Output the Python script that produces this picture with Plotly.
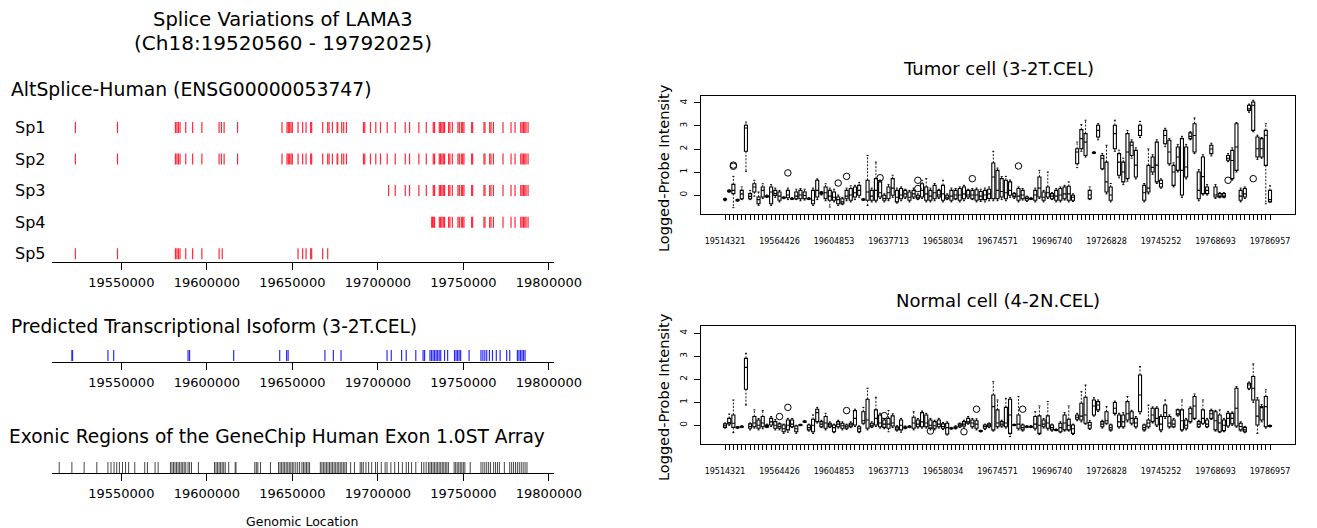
import plotly.graph_objects as go

W, H = 1317, 528
FONT = "DejaVu Sans"

# ---------------- data ----------------
genome_range = [19509701, 19802884]
genomic_ticks = [19550000, 19600000, 19650000, 19700000, 19750000, 19800000]

row_names = ["Sp1", "Sp2", "Sp3", "Sp4", "Sp5"]

sp1 = [19523112, 19547774, 19581633, 19582512, 19583391, 19584328, 19587667, 19591709, 19597098,
       19607174, 19608521, 19610103, 19617953, 19643962, 19646891, 19647653, 19648414, 19649235,
       19649996, 19653335, 19656030, 19658022, 19660716, 19661302, 19667746, 19670675, 19671495,
       19673428, 19676181, 19676533, 19678876, 19680048, 19681629, 19691588, 19692349, 19695688,
       19698793, 19701546, 19705471, 19710157, 19716016, 19718535, 19723983, 19728318, 19732418,
       19733180, 19735933, 19736694, 19737456, 19738276, 19739038, 19741381, 19742142, 19743548,
       19746829, 19747649, 19748821, 19749582, 19750344, 19754855, 19755441, 19762060, 19762645,
       19765398, 19766160, 19767566, 19773190, 19777876, 19780219, 19783558, 19784320, 19785140,
       19785902, 19786663, 19787835]
sp2 = [19523112, 19547774, 19581633, 19582512, 19583391, 19584328, 19587667, 19591709, 19597098,
       19607174, 19608521, 19610103, 19617953, 19643962, 19646891, 19647653, 19648414, 19649235,
       19649996, 19653335, 19656030, 19658022, 19660716, 19661302, 19667746, 19670675, 19671495,
       19673428, 19676181, 19676533, 19678876, 19680048, 19681629, 19691588, 19692349, 19695688,
       19698793, 19701546, 19705471, 19710157, 19716016, 19718535, 19723983, 19728318, 19732418,
       19733180, 19735933, 19736694, 19737456, 19738276, 19739038, 19741381, 19742142, 19743548,
       19746829, 19747649, 19748821, 19749582, 19750344, 19754855, 19755441, 19762060, 19762645,
       19765398, 19766160, 19767566, 19773190, 19777876, 19780219, 19783558, 19784320, 19785140,
       19785902, 19786663, 19787835]
sp3 = [19706300, 19710157, 19716016, 19718535, 19723983, 19728318, 19732418, 19733180, 19735933,
       19736694, 19737456, 19738276, 19739038, 19741381, 19742142, 19743548, 19746829, 19747649,
       19748821, 19749582, 19750344, 19754855, 19755441, 19762060, 19762645, 19765398, 19766160,
       19767566, 19773190, 19777876, 19780219, 19783558, 19784320, 19785140, 19785902, 19786663,
       19787835]
sp4 = [19731500, 19731900, 19732418, 19733180, 19735933, 19736694, 19737456, 19738276, 19739038,
       19741381, 19742142, 19743548, 19746829, 19747649, 19748821, 19749582, 19750344, 19754855,
       19755441, 19762060, 19762645, 19765398, 19766160, 19767566, 19773190, 19777876, 19780219,
       19783558, 19784320, 19785140, 19785902, 19786663, 19787835]
sp5 = [19523112, 19547774, 19581633, 19582512, 19583391, 19584328, 19587667, 19591709, 19597098,
       19607174, 19609000, 19653335, 19656030, 19658022, 19660716, 19661302, 19667746, 19670675]

isoform_exons = [19521090, 19521500, 19542164, 19545526, 19589019, 19589916, 19615698, 19642601,
                 19646636, 19647533, 19669055, 19673987, 19678471, 19705374, 19707840, 19713893,
                 19716583, 19722188, 19726448, 19727344, 19730483, 19731380, 19732277, 19733173,
                 19734070, 19734967, 19735864, 19736761, 19739002, 19740796, 19744831, 19745728,
                 19746625, 19747522, 19748418, 19753351, 19760301, 19761422, 19762543, 19763663,
                 19765233, 19767026, 19769268, 19771510, 19775321, 19777115, 19781599, 19782495,
                 19783392, 19784289, 19785186, 19786082]

array_exons = [19513691, 19521090, 19528264, 19535662, 19542164, 19543957, 19545751, 19547320,
               19548889, 19550683, 19552476, 19554270, 19557857, 19563686, 19565255, 19569739,
               19571532, 19578707, 19579603, 19580500, 19581397, 19582294, 19583190, 19584087,
               19584984, 19585881, 19586777, 19587674, 19589019, 19589916, 19591037, 19595072,
               19604488, 19605385, 19606282, 19607179, 19608075, 19608972, 19609869, 19610766,
               19612783, 19616595, 19617043, 19628028, 19628925, 19629822, 19631391, 19637220,
               19641928, 19642825, 19643722, 19644618, 19645515, 19646412, 19647309, 19648205,
               19649102, 19649999, 19650896, 19652017, 19653138, 19654259, 19655604, 19656500,
               19657397, 19658294, 19659191, 19660088, 19666365, 19667262, 19668158, 19669055,
               19669952, 19670849, 19671745, 19672642, 19673539, 19674436, 19675332, 19676229,
               19677126, 19678023, 19678919, 19679816, 19680713, 19681610, 19684076, 19686318,
               19689681, 19690577, 19691474, 19693043, 19694613, 19696406, 19698648, 19699769,
               19702011, 19704253, 19705374, 19707616, 19709858, 19712100, 19714342, 19716583,
               19717929, 19719722, 19722188, 19725551, 19726896, 19728241, 19729586, 19730483,
               19731380, 19732277, 19733173, 19734070, 19734967, 19735864, 19736761, 19737657,
               19738554, 19739451, 19740348, 19741244, 19744607, 19745504, 19746401, 19747297,
               19748194, 19749091, 19749988, 19750884, 19754023, 19760301, 19761422, 19762543,
               19763663, 19764784, 19765905, 19767699, 19768820, 19769941, 19771062, 19773976,
               19777115, 19778236, 19779357, 19780478, 19781599, 19782719, 19783840, 19784961,
               19786082, 19787203]

# probe-set boxplots (131 probe sets, labelled every 13th)
probe_labels = ["19514321", "19564426", "19604853", "19637713", "19658034", "19674571",
                "19696740", "19726828", "19745252", "19768693", "19786957"]
n_probes = 131
label_step = 13

tumor_q1 = [-0.22, 0.14, 0.06, -0.25, -0.16, 1.90, -0.16, 0.13, -0.38, -0.09,
            -0.08, -0.38, -0.02, -0.23, -0.14, -0.12, -0.18, -0.16, -0.16, -0.16,
            -0.18, -0.38, -0.09, 0.05, -0.16, -0.23, -0.23, -0.38, -0.38, -0.16,
            -0.23, -0.09, -0.01, -0.22, -0.23, -0.23, -0.23, -0.09, -0.23, -0.16,
            -0.01, -0.30, -0.16, -0.09, -0.23, -0.09, -0.16, -0.09, -0.23, -0.23,
            -0.16, -0.09, -0.23, -0.16, -0.23, -0.16, -0.23, -0.16, -0.09, -0.16,
            -0.23, -0.20, -0.20, -0.15, -0.16, -0.16, -0.09, -0.16, -0.01, -0.09,
            -0.23, -0.16, -0.23, -0.18, -0.23, -0.09, -0.23, -0.09, -0.16, -0.23,
            -0.23, -0.16, -0.23, -0.23, 1.36, 2.01, 1.72, -0.16, 1.82, 2.52,
            1.14, 0.13, -0.23, 2.01, 0.86, 0.57, 0.71, 1.72, 0.78, 2.59,
            -0.23, 0.13, 1.00, 0.57, 0.35, 2.23, 1.36, 0.42, 1.07, 0.00,
            0.78, 2.45, 1.87, -0.16, 0.06, 0.06, 1.80, -0.09, -0.09, -0.09,
            1.51, 0.71, 1.07, -0.23, -0.09, 3.68, 2.81, 1.65, 1.65, 1.29,
            -0.30]
tumor_med = [-0.19, 0.17, 0.20, -0.22, 0.05, 2.91, -0.06, 0.35, -0.20, 0.20,
             -0.06, 0.13, 0.06, -0.05, -0.12, 0.00, -0.16, -0.05, 0.00, -0.02,
             -0.16, -0.23, 0.20, 0.10, 0.10, -0.05, -0.10, -0.20, -0.30, -0.05,
             0.00, 0.10, 0.20, -0.20, 0.13, -0.05, 0.20, 0.10, -0.15, 0.10,
             0.30, -0.10, 0.00, 0.05, -0.10, 0.05, -0.10, 0.20, 0.05, -0.05,
             0.10, 0.00, 0.05, -0.10, -0.05, 0.00, 0.00, 0.05, 0.00, 0.00,
             0.00, -0.05, 0.00, 0.05, 0.78, 0.20, 0.15, 0.10, 0.20, -0.05,
             -0.05, 0.00, -0.15, -0.16, 0.00, 0.30, -0.10, 0.10, -0.05, -0.05,
             0.00, 0.05, 0.05, -0.10, 1.87, 2.45, 2.30, 0.00, 1.84, 2.81,
             1.60, 0.57, 0.00, 2.67, 1.43, 1.00, 1.87, 2.16, 1.30, 2.81,
             0.10, 0.30, 1.20, 1.30, 0.50, 2.59, 1.87, 1.00, 1.65, 1.07,
             1.22, 2.55, 2.59, 0.20, 0.80, 0.20, 2.00, 0.00, -0.05, -0.05,
             1.60, 1.50, 2.09, -0.05, 0.05, 3.75, 3.90, 2.01, 2.01, 2.60,
             -0.20]
tumor_q3 = [-0.16, 0.20, 0.46, -0.20, 0.20, 3.03, 0.06, 0.49, -0.09, 0.35,
            -0.04, 0.35, 0.20, 0.13, -0.10, 0.20, -0.14, 0.13, 0.20, 0.13,
            -0.14, 0.20, 0.64, 0.13, 0.35, 0.20, 0.13, -0.09, -0.16, 0.20,
            0.28, 0.35, 0.42, -0.18, 0.64, 0.20, 0.71, 0.57, -0.01, 0.35,
            0.71, 0.20, 0.28, 0.20, 0.13, 0.20, -0.01, 0.49, 0.35, 0.20,
            0.42, 0.20, 0.42, -0.01, 0.20, 0.20, 0.28, 0.35, 0.20, 0.20,
            0.23, 0.15, 0.20, 0.25, 1.39, 1.07, 0.71, 0.64, 0.57, 0.06,
            0.28, 0.20, -0.09, -0.14, 0.20, 0.78, 0.13, 0.35, 0.06, 0.20,
            0.28, 0.35, 0.38, -0.01, 2.01, 2.84, 2.67, 0.20, 1.86, 3.03,
            1.72, 1.43, 0.35, 3.03, 1.80, 1.43, 2.67, 2.30, 1.94, 3.03,
            0.42, 1.29, 1.65, 2.30, 0.64, 2.81, 2.38, 1.29, 2.09, 2.45,
            2.09, 2.70, 3.10, 1.00, 1.65, 0.35, 2.16, 0.35, 0.06, 0.06,
            1.72, 1.94, 3.10, 0.20, 0.28, 3.90, 4.04, 2.52, 2.45, 2.81,
            0.20]
tumor_lo = [-0.25, 0.12, -0.55, -0.27, -0.20, 1.03, -0.20, -0.05, -0.45, -0.15,
            -0.10, -0.45, -0.10, -0.30, -0.16, -0.20, -0.20, -0.20, -0.25, -0.22,
            -0.20, -0.45, -0.20, 0.00, -0.25, -0.52, -0.30, -0.45, -0.42, -0.25,
            -0.30, -0.20, -0.10, -0.24, -0.45, -0.30, -0.30, -0.15, -0.30, -0.25,
            -0.10, -0.35, -0.25, -0.15, -0.30, -0.15, -0.20, -0.15, -0.30, -0.30,
            -0.25, -0.15, -0.30, -0.20, -0.30, -0.20, -0.30, -0.25, -0.15, -0.20,
            -0.30, -0.28, -0.30, -0.25, -0.25, -0.25, -0.20, -0.25, -0.10, -0.15,
            -0.30, -0.22, -0.28, -0.20, -0.30, -0.15, -0.30, -0.15, -0.20, -0.30,
            -0.30, -0.22, -0.30, -0.28, 1.19, 1.90, 1.65, -0.20, 1.80, 2.40,
            1.10, 0.05, -0.30, 1.90, 0.75, 0.45, 0.60, 1.60, 0.70, 2.50,
            -0.30, 0.05, 0.90, 0.50, 0.30, 2.10, 1.30, 0.35, 1.00, -0.10,
            0.70, 2.40, 1.80, -0.25, 0.00, 0.00, 1.70, -0.15, -0.12, -0.12,
            1.45, 0.65, 1.00, -0.30, -0.15, 3.60, 2.75, 1.55, 1.60, -0.38,
            -0.30]
tumor_hi = [-0.14, 0.22, 0.81, -0.18, 0.35, 3.17, 0.20, 0.64, 0.13, 0.49,
            0.00, 0.45, 0.30, 0.20, -0.08, 0.30, -0.12, 0.25, 0.28, 0.25,
            -0.12, 0.30, 0.70, 0.15, 0.49, 0.30, 0.25, 0.00, -0.10, 0.30,
            0.40, 0.42, 0.55, -0.16, 1.72, 0.30, 1.43, 0.65, 0.05, 0.45,
            0.86, 0.30, 0.35, 0.25, 0.20, 0.30, 0.05, 0.64, 0.71, 0.30,
            0.50, 0.25, 0.64, 0.05, 0.30, 0.28, 0.35, 0.42, 0.25, 0.28,
            0.30, 0.25, 0.30, 0.35, 1.90, 1.17, 0.80, 0.81, 0.65, 0.10,
            0.35, 0.28, -0.05, -0.12, 0.30, 1.07, 0.20, 1.00, 0.10, 0.28,
            0.35, 0.42, 0.57, 0.05, 2.30, 3.06, 3.25, 0.35, 1.88, 3.10,
            1.80, 2.16, 0.50, 3.25, 1.95, 1.60, 2.80, 2.40, 2.05, 3.20,
            0.50, 2.00, 1.75, 2.40, 0.70, 2.90, 2.45, 1.40, 2.20, 2.55,
            2.20, 2.75, 3.35, 1.10, 1.75, 0.45, 2.25, 0.45, 0.10, 0.10,
            1.80, 2.05, 3.15, 0.30, 0.35, 3.95, 4.12, 2.60, 2.50, 3.10,
            0.40]
tumor_out_idx = [3, 3, 16, 28, 30, 38, 47, 47, 60, 71, 121, 127]
tumor_out_val = [1.25, 1.30, 0.96, 0.52, 0.81, 0.75, 0.64, 0.28, 0.71, 1.26, 0.64, 0.71]

normal_q1 = [-0.09, 0.06, -0.09, -0.11, -0.08, 1.57, -0.13, -0.06, -0.13, -0.06,
             -0.08, 0.01, -0.13, -0.13, -0.28, -0.20, -0.06, -0.28, -0.01, 0.14,
             -0.20, -0.28, 0.16, -0.06, -0.13, -0.06, -0.28, -0.06, -0.13, -0.13,
             -0.06, 0.01, -0.28, 0.09, -0.13, -0.06, 0.01, -0.06, -0.09, -0.13,
             -0.03, -0.20, -0.20, -0.13, -0.08, -0.13, -0.06, -0.06, -0.06, -0.13,
             -0.13, -0.06, -0.13, -0.38, -0.15, -0.13, -0.06, -0.03, 0.09, -0.06,
             -0.13, -0.27, -0.13, -0.06, -0.20, -0.06, -0.03, -0.06, -0.35, -0.01,
             -0.13, -0.20, -0.08, -0.08, -0.13, -0.35, -0.06, -0.13, -0.20, -0.22,
             -0.28, -0.20, -0.20, -0.35, 0.26, 0.23, 0.09, -0.13, 0.45, 0.67,
             -0.06, 0.09, -0.20, 0.52, -0.06, -0.06, 0.23, 0.09, -0.06, 0.59,
             -0.20, -0.06, 0.16, 0.01, -0.20, 0.38, -0.06, -0.06, 0.45, -0.20,
             -0.13, 0.16, 0.30, -0.06, 0.09, -0.06, 0.30, -0.20, -0.28, -0.23,
             -0.03, 0.06, -0.03, -0.20, -0.28, 1.61, 1.10, 0.01, 0.23, -0.06,
             -0.05]
normal_med = [-0.02, 0.12, 0.09, -0.09, -0.06, 2.52, -0.05, 0.10, 0.00, 0.10,
              -0.04, 0.15, 0.00, -0.05, -0.15, 0.00, 0.05, -0.15, 0.01, 0.16,
              -0.10, 0.00, 0.55, 0.05, 0.10, 0.02, -0.10, 0.05, -0.02, -0.06,
              0.02, 0.30, -0.15, 0.20, 0.23, 0.00, 0.30, 0.10, 0.05, 0.05,
              0.10, -0.12, 0.00, -0.10, -0.06, 0.10, 0.05, 0.15, 0.10, 0.00,
              -0.02, 0.05, -0.05, -0.10, -0.13, -0.10, 0.00, 0.05, 0.15, 0.10,
              0.05, -0.25, -0.05, 0.00, 0.81, 0.10, 0.05, 0.10, 0.45, 0.01,
              0.05, -0.10, -0.06, -0.06, 0.05, 0.00, 0.05, 0.10, -0.10, -0.20,
              -0.10, 0.10, 0.00, -0.15, 0.35, 0.40, 0.45, 0.00, 0.84, 0.88,
              0.05, 0.20, -0.10, 0.74, 0.15, 0.15, 0.50, 0.30, 0.10, 1.32,
              -0.10, 0.10, 0.45, 0.30, 0.05, 0.55, 0.10, 0.05, 0.50, 0.20,
              0.00, 0.50, 0.84, 0.05, 0.30, 0.05, 0.50, 0.20, 0.10, 0.00,
              0.30, 0.30, 0.74, -0.05, -0.20, 1.75, 1.61, 0.40, 0.78, 0.81,
              -0.03]
normal_q3 = [0.06, 0.30, 0.45, -0.07, -0.04, 2.91, 0.06, 0.38, 0.23, 0.38,
             0.01, 0.30, 0.16, 0.06, 0.01, 0.23, 0.23, -0.03, 0.03, 0.18,
             0.01, 0.26, 0.70, 0.16, 0.38, 0.09, 0.01, 0.16, 0.09, 0.01,
             0.09, 0.64, -0.06, 0.59, 1.13, 0.09, 0.67, 0.45, 0.23, 0.30,
             0.41, -0.06, 0.23, -0.06, -0.04, 0.35, 0.23, 0.55, 0.45, 0.23,
             0.16, 0.23, 0.06, 0.09, -0.11, -0.06, 0.06, 0.16, 0.30, 0.23,
             0.20, -0.23, 0.01, 0.06, 1.32, 0.67, 0.16, 0.78, 1.13, 0.03,
             0.45, 0.01, -0.04, -0.04, 0.38, 0.41, 0.23, 0.41, 0.01, -0.18,
             0.09, 0.45, 0.26, 0.01, 0.45, 0.96, 1.22, 0.12, 1.10, 1.03,
             0.16, 0.59, 0.01, 0.99, 0.45, 0.45, 1.03, 0.59, 0.30, 2.19,
             0.01, 0.23, 0.74, 0.74, 0.38, 0.88, 0.38, 0.23, 0.67, 0.67,
             0.23, 0.74, 1.25, 0.16, 0.67, 0.23, 0.64, 0.59, 0.45, 0.23,
             0.52, 0.52, 1.61, 0.09, -0.09, 1.83, 2.12, 1.10, 0.81, 1.25,
             -0.01]
normal_lo = [-0.12, 0.00, -0.32, -0.13, -0.10, 0.88, -0.20, -0.12, -0.20, -0.15,
             -0.10, -0.05, -0.20, -0.20, -0.35, -0.30, -0.10, -0.35, -0.02, 0.12,
             -0.25, -0.35, 0.10, -0.10, -0.20, -0.10, -0.32, -0.12, -0.20, -0.18,
             -0.10, -0.05, -0.32, 0.05, -0.20, -0.10, -0.05, -0.12, -0.15, -0.28,
             -0.10, -0.25, -0.30, -0.15, -0.10, -0.20, -0.12, -0.12, -0.12, -0.20,
             -0.20, -0.12, -0.18, -0.42, -0.17, -0.16, -0.10, -0.08, 0.05, -0.12,
             -0.20, -0.29, -0.18, -0.10, -0.25, -0.12, -0.08, -0.12, -0.49, -0.02,
             -0.20, -0.25, -0.10, -0.10, -0.20, -0.40, -0.12, -0.20, -0.25, -0.24,
             -0.32, -0.25, -0.25, -0.40, 0.20, 0.15, 0.05, -0.18, 0.40, 0.60,
             -0.12, 0.05, -0.25, 0.45, -0.12, -0.12, 0.15, 0.02, -0.12, 0.50,
             -0.25, -0.12, 0.10, -0.05, -0.28, 0.30, -0.12, -0.10, 0.40, -0.25,
             -0.20, 0.10, 0.25, -0.10, 0.05, -0.10, 0.25, -0.25, -0.32, -0.28,
             -0.08, 0.00, -0.08, -0.25, -0.32, 1.55, 1.00, -0.35, 0.15, -0.12,
             -0.07]
normal_hi = [0.10, 0.49, 1.10, -0.05, -0.02, 3.13, 0.10, 0.67, 0.30, 0.64,
             0.05, 0.38, 0.25, 0.10, 0.05, 0.30, 0.30, 0.00, 0.05, 0.20,
             0.05, 0.45, 0.78, 0.22, 0.52, 0.15, 0.05, 0.22, 0.15, 0.05,
             0.15, 0.70, -0.02, 0.78, 1.61, 0.15, 1.22, 0.52, 0.30, 0.64,
             0.50, -0.02, 0.30, -0.03, -0.02, 0.59, 0.30, 0.62, 0.52, 0.30,
             0.22, 0.30, 0.12, 0.15, -0.09, -0.02, 0.10, 0.22, 0.38, 0.30,
             0.28, -0.21, 0.05, 0.10, 1.90, 1.10, 0.22, 1.17, 1.20, 0.05,
             1.25, 0.05, -0.02, -0.02, 0.59, 0.84, 0.30, 1.03, 0.05, -0.16,
             0.15, 0.55, 0.84, 0.05, 0.52, 1.46, 1.75, 0.20, 1.20, 1.10,
             0.22, 0.81, 0.05, 1.05, 0.52, 0.55, 1.25, 0.65, 0.38, 2.55,
             0.05, 0.88, 0.80, 0.80, 0.45, 1.10, 0.45, 0.30, 0.70, 1.10,
             0.30, 0.80, 1.36, 0.22, 1.10, 0.30, 0.70, 0.65, 0.67, 0.30,
             0.60, 0.58, 1.68, 0.15, -0.05, 1.88, 2.67, 1.20, 0.90, 1.54,
             0.01]
normal_out_idx = [14, 16, 30, 39, 50, 58, 61, 72]
normal_out_val = [0.38, 0.78, 0.64, 0.42, -0.25, -0.28, 0.70, 0.70]

# ---------------- helpers ----------------
def fx(p):
    return p / W


def fy(p):
    return 1 - p / H


ROW_PX = 31.6      # pixels per row unit on the left panels
HALF = 0.174       # half height of an exon bar (row units)
BOX_W = 0.72       # box width (probe units)
STAPLE = 0.24      # half width of whisker staple (probe units)


def row_range(bottom_px, top_px, center_px):
    return [1 - (bottom_px - center_px) / ROW_PX, 1 + (center_px - top_px) / ROW_PX]


def bar_xy(positions, level):
    xs, ys = [], []
    for g in positions:
        xs += [g, g, None]
        ys += [level - HALF, level + HALF, None]
    return xs, ys


fig = go.Figure()

# --- AltSplice rows ---
sp_rows = [sp1, sp2, sp3, sp4, sp5]
n_rows = len(sp_rows)
for k, exons in enumerate(sp_rows):
    lvl = n_rows - k
    xs, ys = bar_xy(exons, lvl)
    fig.add_trace(go.Scatter(x=xs, y=ys, mode="lines", line=dict(color="#ff2838", width=1.2),
                             xaxis="x", yaxis="y", showlegend=False, hoverinfo="skip"))

xs, ys = bar_xy(isoform_exons, 1)
fig.add_trace(go.Scatter(x=xs, y=ys, mode="lines", line=dict(color="#2a2aff", width=1.2),
                         xaxis="x2", yaxis="y2", showlegend=False, hoverinfo="skip"))
xs, ys = bar_xy(array_exons, 1)
fig.add_trace(go.Scatter(x=xs, y=ys, mode="lines", line=dict(color="#333333", width=0.9),
                         xaxis="x3", yaxis="y3", showlegend=False, hoverinfo="skip"))

# --- boxplots ---
positions = list(range(1, n_probes + 1))
for q1, med, q3, lo, hi, oi, ov, xa, ya in [
        (tumor_q1, tumor_med, tumor_q3, tumor_lo, tumor_hi, tumor_out_idx, tumor_out_val, "x4", "y4"),
        (normal_q1, normal_med, normal_q3, normal_lo, normal_hi, normal_out_idx, normal_out_val, "x5", "y5")]:
    wx, wy, sx, sy = [], [], [], []
    for p, a, b, c, d in zip(positions, q1, q3, lo, hi):
        wx += [p, p, None, p, p, None]
        wy += [b, d, None, a, c, None]
        sx += [p - STAPLE, p + STAPLE, None, p - STAPLE, p + STAPLE, None]
        sy += [d, d, None, c, c, None]
    fig.add_trace(go.Scatter(x=wx, y=wy, mode="lines",
                             line=dict(color="black", width=0.9, dash="2px,1.5px"),
                             xaxis=xa, yaxis=ya, showlegend=False, hoverinfo="skip"))
    fig.add_trace(go.Scatter(x=sx, y=sy, mode="lines", line=dict(color="black", width=1),
                             xaxis=xa, yaxis=ya, showlegend=False, hoverinfo="skip"))
    fig.add_trace(go.Box(x=positions, q1=q1, median=med, q3=q3, lowerfence=q1, upperfence=q3,
                         orientation="v", width=BOX_W, whiskerwidth=0, boxpoints=False,
                         line=dict(color="black", width=1.1), fillcolor="white",
                         xaxis=xa, yaxis=ya, showlegend=False, hoverinfo="skip"))
    fig.add_trace(go.Scatter(x=oi, y=ov, mode="markers",
                             marker=dict(symbol="circle-open", size=6.5, color="black",
                                         line=dict(width=1, color="black")),
                             xaxis=xa, yaxis=ya, showlegend=False, hoverinfo="skip"))

# ---------------- axes ----------------
left_dom = [fx(52.4), fx(553.8)]
gen_axis = dict(domain=left_dom, range=genome_range, showgrid=False, zeroline=False,
                showline=True, linecolor="black", linewidth=1, ticks="outside", ticklen=7,
                tickwidth=1, tickcolor="black", tickvals=genomic_ticks,
                ticktext=[str(t) for t in genomic_ticks], automargin=False,
                tickfont=dict(family=FONT, size=13, color="black"), ticklabelstandoff=1)
hidden_y = dict(visible=False, showgrid=False, zeroline=False, automargin=False)

right_dom = [fx(701), fx(1295)]
x_lo = 1 - 24 / 4.192
x_hi = n_probes + 25 / 4.192
tick_text = []
for i in positions:
    tick_text.append(probe_labels[(i - 1) // label_step] if (i - 1) % label_step == 0 else "")
box_x = dict(domain=right_dom, range=[x_lo, x_hi], showgrid=False, zeroline=False,
             showline=True, mirror=True, linecolor="black", linewidth=1, automargin=False,
             ticks="outside", ticklen=5, tickwidth=0.8, tickcolor="black",
             tickvals=positions, ticktext=tick_text, tickangle=0,
             tickfont=dict(family=FONT, size=8, color="black"), ticklabelstandoff=14)
box_y = dict(range=[-0.826, 4.304], showgrid=False, zeroline=False, showline=True, mirror=True,
             linecolor="black", linewidth=1, ticks="outside", ticklen=6, tickwidth=0.8,
             tickcolor="black", tickvals=[0, 1, 2, 3, 4], tickangle=-90, automargin=False,
             tickfont=dict(family=FONT, size=9, color="black"), ticklabelstandoff=3)

fig.update_layout(
    width=W, height=H, autosize=False, margin=dict(l=0, r=0, t=0, b=0, pad=0, autoexpand=False),
    paper_bgcolor="white", plot_bgcolor="white", showlegend=False,
    xaxis=dict(gen_axis, anchor="y"),
    yaxis=dict(hidden_y, domain=[fy(262.3), fy(110)], range=[1 - (262.3 - 253.8) / ROW_PX,
                                                             1 + (253.8 - 110) / ROW_PX]),
    xaxis2=dict(gen_axis, anchor="y2"),
    yaxis2=dict(hidden_y, domain=[fy(362.3), fy(340)], range=row_range(362.3, 340, 355.5)),
    xaxis3=dict(gen_axis, anchor="y3"),
    yaxis3=dict(hidden_y, domain=[fy(473.3), fy(450)], range=row_range(473.3, 450, 467.5)),
    xaxis4=dict(box_x, anchor="y4"),
    yaxis4=dict(box_y, domain=[fy(214), fy(96)], anchor="x4"),
    xaxis5=dict(box_x, anchor="y5"),
    yaxis5=dict(box_y, domain=[fy(444.3), fy(326.3)], anchor="x5"),
)

# ---------------- text ----------------
def note(text, x, y, size, xanchor="center", angle=0, fam=FONT):
    fig.add_annotation(text=text, x=fx(x), y=fy(y), xref="paper", yref="paper",
                       xanchor=xanchor, yanchor="middle", showarrow=False, textangle=angle,
                       font=dict(family=fam, size=size, color="black"))


note("Splice Variations of LAMA3", 283, 19, 19.5)
note("(Ch18:19520560 - 19792025)", 283, 43, 20)
note("AltSplice-Human (ENSG00000053747)", 9, 90, 18.8, xanchor="left")
note("Predicted Transcriptional Isoform (3-2T.CEL)", 9, 326, 18.6, xanchor="left")
note("Exonic Regions of the GeneChip Human Exon 1.0ST Array", 7, 436, 18.6, xanchor="left")
note("Genomic Location", 302, 521, 12.5)
note("Tumor cell (3-2T.CEL)", 998, 68, 18)
note("Normal cell (4-2N.CEL)", 998, 300, 18)
note("Logged-Probe Intensity", 664, 168, 14.5, angle=-90)
note("Logged-Probe Intensity", 664, 397, 14.5, angle=-90)

for k, name in enumerate(row_names):
    fig.add_annotation(text=name, x=fx(13), y=n_rows - k, xref="paper", yref="y",
                       xanchor="left", yanchor="middle", showarrow=False,
                       font=dict(family=FONT, size=16, color="black"))

fig.write_html("out.html", config={"displayModeBar": False, "responsive": False},
               post_script="document.body.style.margin='0';")
